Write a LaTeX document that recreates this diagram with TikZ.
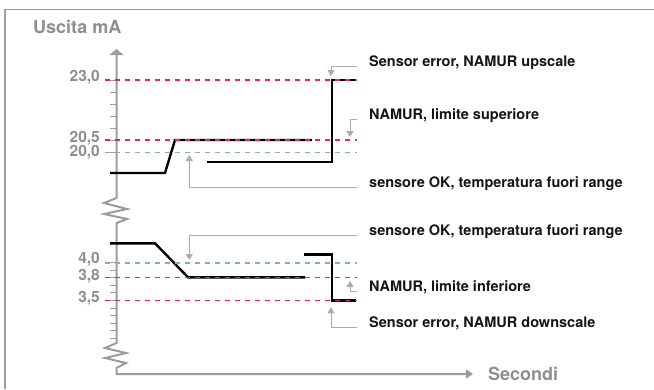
\documentclass[tikz,border=0pt]{standalone}
\usepackage{fontspec}
\setmainfont{TeX Gyre Heros}
\usetikzlibrary{arrows.meta}
\definecolor{axgray}{HTML}{9C9C9C}
\definecolor{leadgray}{HTML}{ABABAB}
\definecolor{labgray}{HTML}{8E8E8E}
\definecolor{limred}{HTML}{E62E3A}
\definecolor{okgreen}{HTML}{7DBB8A}
\definecolor{txtdark}{HTML}{141414}
\tikzset{
  axisline/.style={draw=axgray, line width=2pt, line join=miter},
  tickline/.style={draw=axgray, line width=1pt},
  signal/.style={draw=black, line width=2.4pt, line join=miter},
  redlim/.style={draw=limred, line width=1.25pt, dash pattern=on 5pt off 5pt},
  greenlim/.style={draw=okgreen, line width=1.25pt, dash pattern=on 5pt off 5pt},
  leader/.style={draw=leadgray, line width=1pt, -{Triangle[length=6pt,width=7pt]}},
  notetext/.style={inner sep=0pt, anchor=base west, text=txtdark, font=\bfseries\fontsize{14.5}{17}\selectfont},
  vallabel/.style={inner sep=0pt, anchor=base east, text=labgray, font=\bfseries\fontsize{15.5}{18}\selectfont},
  titletext/.style={inner sep=0pt, anchor=base west, text=labgray, font=\bfseries\fontsize{18}{21}\selectfont}
}
\begin{document}
\begin{tikzpicture}[x=1pt,y=-1pt]
\useasboundingbox (0,0) rectangle (654,389);
% frame
\draw[draw=axgray, line width=1.6pt] (5,389) -- (5,9.5) -- (654,9.5);
% titles
\node[titletext] (ytitle) at (33,33) {Uscita mA};
\node[titletext] (xtitle) at (488,380.5) {Secondi};
% ticks
\foreach \y in {80,92,...,152} \draw[tickline] (109.5,\y) -- (116.5,\y);
\foreach \i in {0,...,10} \draw[tickline] (109.5,262.5+7.6*\i) -- (116.5,262.5+7.6*\i);
% axes
\coordinate (xend) at (473,374);
\coordinate (orig) at (116.5,374);
\coordinate (yend) at (116.5,49);
\draw[axisline, {Triangle[length=7pt,width=9pt]}-{Triangle[length=6pt,width=14pt]}]
  (xend) -- (orig) -- (116.5,368) -- (126,363) -- (105,358) -- (126,353) -- (105,348) -- (116.5,343)
  -- (116.5,223) -- (127,219) -- (104,214) -- (127,209) -- (104,203) -- (116.5,198) -- (yend);
% value labels
\node[vallabel] (l230) at (100,81) {23,0};
\node[vallabel] (l205) at (100,142) {20,5};
\node[vallabel] (l200) at (100,156) {20,0};
\node[vallabel] (l40) at (100,263) {4,0};
\node[vallabel] (l38) at (100,280) {3,8};
\node[vallabel] (l35) at (100,302) {3,5};
% signals
\draw[signal] (110,173) -- (165,173) -- (175,140) -- (312,140);
\draw[signal] (207,162) -- (332,162) -- (332,80) -- (356,80);
\draw[signal] (110,243.3) -- (155,243.3) -- (188,277.3) -- (305,277.3);
\draw[signal] (304,254.3) -- (332,254.3) -- (332,300.5) -- (356,300.5);
% limit lines
\draw[redlim] (105,80) -- (357,80);
\draw[redlim] (105,140) -- (357,140);
\draw[greenlim] (105,152.3) -- (357,152.3);
\draw[greenlim] (105,263) -- (357,263);
\draw[redlim] (105,277.3) -- (357,277.3);
\draw[redlim] (105,300.5) -- (357,300.5);
% notes
\node[notetext] (n1) at (369,66.5) {Sensor error, NAMUR upscale};
\node[notetext] (n2) at (369,119.5) {NAMUR, limite superiore};
\node[notetext] (n3) at (369,187) {sensore OK, temperatura fuori range};
\node[notetext] (n4) at (369,235.7) {sensore OK, temperatura fuori range};
\node[notetext] (n5) at (369,291.5) {NAMUR, limite inferiore};
\node[notetext] (n6) at (369,327.5) {Sensor error, NAMUR downscale};
% arrow tips
\coordinate (t1) at (331,76);
\coordinate (t2) at (350,137);
\coordinate (t3) at (189.3,155);
\coordinate (t4) at (189.3,260);
\coordinate (t5) at (350,281);
\coordinate (t6) at (331,307.3);
% leaders
\foreach \n/\t in {n1/t1,n2/t2,n3/t3,n4/t4,n5/t5,n6/t6}
  \draw[leader] ([xshift=-12pt]\n.base west) -| (\t);
\end{tikzpicture}
\end{document}
